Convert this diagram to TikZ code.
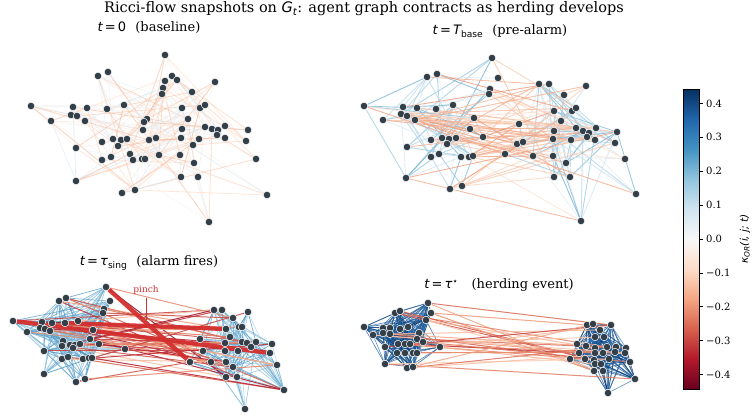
\documentclass[tikz,border=0pt]{standalone}
\usepackage{fontspec}
\setmainfont{DejaVu Serif}
\newfontfamily\plotsans{DejaVu Sans}
\usepackage{tikz}
\pgfdeclarelayer{edges}
\pgfsetlayers{edges,main}

% RdBu stops, red (negative curvature) to blue (positive)
\definecolor{rb0}{HTML}{67001F}
\definecolor{rb1}{HTML}{B2182B}
\definecolor{rb2}{HTML}{D6604D}
\definecolor{rb3}{HTML}{F4A582}
\definecolor{rb4}{HTML}{FDDBC7}
\definecolor{rb5}{HTML}{F7F7F7}
\definecolor{rb6}{HTML}{D1E5F0}
\definecolor{rb7}{HTML}{92C5DE}
\definecolor{rb8}{HTML}{4393C3}
\definecolor{rb9}{HTML}{2166AC}
\definecolor{rb10}{HTML}{053061}
\definecolor{agentgrey}{HTML}{323F48}
\definecolor{pinchred}{HTML}{D32F2F}

\pgfdeclareverticalshading{rdbu}{100bp}{color(0bp)=(rb0); color(25bp)=(rb0); color(30bp)=(rb1); color(35bp)=(rb2); color(40bp)=(rb3); color(45bp)=(rb4); color(50bp)=(rb5); color(55bp)=(rb6); color(60bp)=(rb7); color(65bp)=(rb8); color(70bp)=(rb9); color(75bp)=(rb10); color(100bp)=(rb10)}

\newcommand\mvar[1]{{\plotsans\itshape #1}}
\newcommand\mrm[1]{{\plotsans #1}}

% kappa in [-0.44,0.44] -> colour kcol
\newcommand\setkcolor[1]{%
  \pgfmathsetmacro\kf{min(max(((#1)+0.44)/0.088,0),9.999)}%
  \pgfmathtruncatemacro\ki{floor(\kf)}%
  \pgfmathtruncatemacro\kj{\ki+1}%
  \pgfmathtruncatemacro\kp{round((\kf-\ki)*100)}%
  \edef\kmix{\noexpand\colorlet{kcol}{rb\kj!\kp!rb\ki}}\kmix}

% random links inside one group: prefix, count, prob, kappa lo, kappa hi, style
\newcommand\linkwithin[6]{%
  \foreach \i in {1,...,#2}{%
    \foreach \j in {\i,...,#2}{%
      \ifnum\j>\i\relax
        \pgfmathtruncatemacro\hit{rnd<#3}%
        \ifnum\hit=1\relax
          \pgfmathsetmacro\kap{(#4)+((#5)-(#4))*rnd}%
          \setkcolor{\kap}%
          \draw[#6, kcol] (#1\i) -- (#1\j);%
        \fi
      \fi}}}

% random links between two groups
\newcommand\linkacross[8]{%
  \foreach \i in {1,...,#2}{%
    \foreach \j in {1,...,#4}{%
      \pgfmathtruncatemacro\hit{rnd<#5}%
      \ifnum\hit=1\relax
        \pgfmathsetmacro\kap{(#6)+((#7)-(#6))*rnd}%
        \setkcolor{\kap}%
        \draw[#8, kcol] (#1\i) -- (#3\j);%
      \fi}}}

\tikzset{
    agent/.style={circle, fill=agentgrey, draw=white, line width=0.5pt, inner sep=0pt, minimum size=7.5pt},
    faint_edge/.style={line width=0.85pt, opacity=0.6},
    mid_edge/.style={line width=0.9pt, opacity=0.75},
    cluster_edge/.style={line width=0.7pt, opacity=0.7},
    bridge_edge/.style={line width=1pt, opacity=0.85},
    pinch_edge/.style={pinchred, line width=4.3pt, opacity=0.95},
    fig_title/.style={font=\fontsize{14.5}{16}\selectfont},
    panel_title/.style={font=\fontsize{13}{15}\selectfont},
    cb_tick/.style={anchor=west, inner sep=0pt, font=\fontsize{10}{12}\selectfont},
    cb_label/.style={rotate=90, inner sep=0pt, font=\fontsize{10.5}{12}\selectfont}
}

\begin{document}
\begin{tikzpicture}[x=1pt, y=-1pt]
\useasboundingbox (0,0) rectangle (752,419);
\pgfmathsetseed{11}

\node[fig_title] (title) at (364,9) {Ricci-flow snapshots on \mvar{G}\textsubscript{\mvar{t}}: agent graph contracts as herding develops};

% t = 0
\node[panel_title] (ttl_base) at (149,28) {\mvar{t}\,\mrm{=}\,\mrm{0}\hspace{0.7em}(baseline)};
\foreach \x/\y [count=\n] in {165/55, 98/76, 108/72, 165/81, 172/76, 177/80, 215/82, 163/88, 162/94, 192/92,
    31/106, 73/107, 87/108, 107/109, 124/105, 182/108, 200/108, 205/105, 71/115, 77/116,
    51/121, 85/121, 147/119, 144/122, 188/119, 143/130, 182/129, 205/127, 212/129, 218/130,
    225/126, 248/130, 217/135, 102/142, 113/139, 121/140, 127/139, 118/146, 149/140, 156/138,
    181/138, 199/139, 225/138, 246/141, 76/148, 193/145, 130/154, 111/157, 102/160, 133/160,
    142/159, 145/159, 159/155, 180/155, 256/159, 194/163, 76/181, 181/177, 198/177, 122/193,
    135/190, 267/195, 209/222}
    {\node[agent] (a\n) at (\x,\y) {}; \xdef\na{\n}}
\begin{pgfonlayer}{edges}
\linkwithin{a}{\na}{0.075}{-0.17}{0.09}{faint_edge}
\end{pgfonlayer}

% t = T_base
\node[panel_title] (ttl_pre) at (500,31) {\mvar{t}\,\mrm{=}\,\mvar{T}\textsubscript{\mrm{base}}\hspace{0.7em}(pre-alarm)};
\foreach \x/\y [count=\n] in {492/58, 427/77, 437/74, 498/78, 490/89, 489/94, 364/106, 403/107, 417/108, 436/109,
    453/105, 401/114, 407/116, 415/120, 383/120, 474/118, 470/129, 483/137, 431/140, 442/138,
    449/139, 456/138, 447/144, 407/147, 439/154, 431/157, 461/157, 469/157, 473/156, 406/178,
    450/189, 462/186}
    {\node[agent] (bl\n) at (\x,\y) {}; \xdef\nbl{\n}}
\foreach \x/\y [count=\n] in {539/84, 549/84, 586/86, 564/95, 554/111, 572/111, 576/108, 561/121, 519/124, 554/131,
    576/128, 583/131, 589/133, 596/128, 617/132, 587/137, 517/144, 523/142, 553/139, 571/140,
    595/140, 615/143, 553/156, 533/156, 505/154, 566/163, 625/159, 554/177, 570/177, 636/194,
    581/221}
    {\node[agent] (br\n) at (\x,\y) {}; \xdef\nbr{\n}}
\begin{pgfonlayer}{edges}
\linkwithin{bl}{\nbl}{0.16}{0.04}{0.22}{mid_edge}
\linkwithin{br}{\nbr}{0.16}{0.04}{0.22}{mid_edge}
\linkacross{bl}{\nbl}{br}{\nbr}{0.085}{-0.2}{-0.07}{mid_edge}
\end{pgfonlayer}

% t = tau_sing
\node[panel_title] (ttl_sing) at (149,263) {\mvar{t}\,\mrm{=}\,\mvar{τ}\textsubscript{\mrm{sing}}\hspace{0.7em}(alarm fires)};
\foreach \x/\y [count=\n] in {106/287, 66/298, 59/301, 110/301, 104/309, 103/313, 13/321, 42/322, 52/323, 78/321,
    65/323, 27/332, 40/328, 45/329, 50/331, 93/330, 90/339, 63/341, 62/346, 70/345,
    75/345, 80/344, 99/344, 73/348, 125/349, 44/351, 62/359, 68/357, 83/359, 89/358,
    92/358, 44/374, 76/382, 85/379}
    {\node[agent] (cl\n) at (\x,\y) {}; \xdef\ncl{\n}}
\foreach \x/\y [count=\n] in {214/310, 222/310, 248/312, 233/318, 239/327, 242/327, 226/329, 230/337, 200/339, 225/343,
    242/342, 247/343, 256/342, 272/344, 251/347, 203/351, 225/351, 238/351, 270/353, 211/362,
    190/362, 226/362, 233/367, 277/365, 226/377, 237/377, 284/390, 245/409}
    {\node[agent] (cr\n) at (\x,\y) {}; \xdef\ncr{\n}}
\begin{pgfonlayer}{edges}
\linkwithin{cl}{\ncl}{0.34}{0.14}{0.3}{cluster_edge}
\linkwithin{cr}{\ncr}{0.34}{0.14}{0.3}{cluster_edge}
\linkacross{cl}{\ncl}{cr}{\ncr}{0.05}{-0.4}{-0.12}{bridge_edge}
\draw[pinch_edge] (cl7) -- (cr19);
\draw[pinch_edge] (cl11) -- (cr7);
\draw[pinch_edge] (cl1) -- (cr21);
\end{pgfonlayer}
\node[pinchred, font=\fontsize{9}{10}\selectfont] (pinch) at (146,290) {pinch};
\coordinate (pinch_tip) at (146,320);
\draw[pinchred, line width=0.6pt] (pinch) -- (pinch_tip);

% t = tau^*
\node[panel_title] (ttl_herd) at (499,285) {\mvar{t}\,\mrm{=}\,\mvar{τ}\textsuperscript{\mrm{⋆}}\hspace{1em}(herding event)};
\foreach \x/\y [count=\n] in {428/303, 395/313, 400/311, 431/313, 426/320, 364/327, 383/328, 390/328, 400/329, 408/327,
    373/335, 383/333, 390/334, 419/333, 417/339, 398/344, 405/344, 410/344, 423/342, 440/347,
    385/347, 397/353, 405/353, 413/353, 417/353, 385/364, 407/368, 413/367}
    {\node[agent] (dl\n) at (\x,\y) {}; \xdef\ndl{\n}}
\foreach \x/\y [count=\n] in {587/325, 593/324, 611/325, 600/330, 595/337, 604/337, 577/344, 586/346, 595/348, 607/347,
    616/347, 626/348, 579/353, 595/353, 603/353, 615/352, 625/353, 570/359, 585/359, 594/360,
    609/359, 630/362, 595/364, 601/364, 594/371, 603/371, 635/379, 608/393}
    {\node[agent] (dr\n) at (\x,\y) {}; \xdef\ndr{\n}}
\begin{pgfonlayer}{edges}
\linkwithin{dl}{\ndl}{0.7}{0.32}{0.44}{cluster_edge}
\linkwithin{dr}{\ndr}{0.7}{0.32}{0.44}{cluster_edge}
\linkacross{dl}{\ndl}{dr}{\ndr}{0.045}{-0.32}{-0.1}{bridge_edge}
\end{pgfonlayer}

% colour bar
\node[draw, line width=0.8pt, shade, shading=rdbu, minimum width=16, minimum height=300, inner sep=0pt, anchor=north west] (cbar) at (683,89) {};
\foreach \v/\lbl [count=\k] in {0.4/0.4, 0.3/0.3, 0.2/0.2, 0.1/0.1, 0/0.0, -0.1/−0.1, -0.2/−0.2, -0.3/−0.3, -0.4/−0.4} {
    \pgfmathsetmacro\yy{239-339*\v}
    \draw[line width=0.6pt] (699,\yy) -- (702.5,\yy);
    \node[cb_tick] (cbt\k) at (706,\yy) {\lbl};
}
\node[cb_label] (cbname) at (745,239) {\mvar{κ}\textsubscript{\mvar{OR}}\mvar{(i, j; t)}};
\end{tikzpicture}
\end{document}
